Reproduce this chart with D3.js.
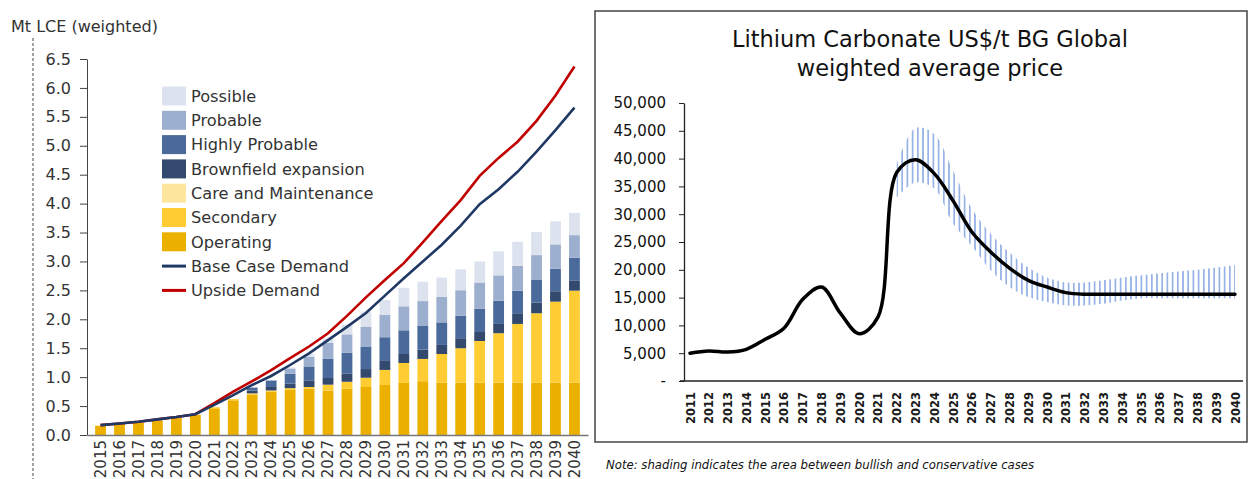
<!DOCTYPE html>
<html>
<head>
<meta charset="utf-8">
<script src="https://cdn.jsdelivr.net/npm/d3@7"></script>
<style>
  body { margin: 0; background: #fff; }
  text { font-family: "DejaVu Sans", sans-serif; }
</style>
</head>
<body>
<svg id="chart" width="1250" height="479"></svg>
<script>
// ---- left chart: supply vs demand (Mt LCE) ----
const supplyYears = ["2015","2016","2017","2018","2019","2020","2021","2022","2023","2024","2025","2026","2027",
                     "2028","2029","2030","2031","2032","2033","2034","2035","2036","2037","2038","2039","2040"];
const operating      = [0.16,0.19,0.21,0.25,0.30,0.35,0.45,0.60,0.70,0.75,0.78,0.80,0.77,0.80,0.83,0.865,0.90,0.93,0.905,0.905,0.905,0.905,0.905,0.905,0.905,0.905];
const secondary      = [0,0,0,0,0,0,0.03,0.02,0.02,0.02,0.03,0.03,0.10,0.12,0.16,0.26,0.345,0.385,0.495,0.595,0.72,0.855,1.015,1.20,1.40,1.59];
const careMaint      = [0,0,0,0,0,0,0,0,0,0,0,0,0,0,0,0,0,0,0,0,0,0,0,0,0,0];
const brownfield     = [0,0,0,0,0,0,0,0,0.05,0.06,0.08,0.115,0.115,0.145,0.15,0.155,0.155,0.16,0.157,0.173,0.156,0.16,0.185,0.185,0.18,0.17];
const highlyProbable = [0,0,0,0,0,0,0,0,0.05,0.11,0.17,0.24,0.33,0.355,0.39,0.41,0.41,0.41,0.39,0.39,0.40,0.40,0.39,0.39,0.39,0.40];
const probable       = [0,0,0,0,0,0,0,0,0,0.01,0.09,0.17,0.28,0.32,0.345,0.385,0.415,0.43,0.44,0.44,0.455,0.44,0.43,0.43,0.42,0.39];
const possible       = [0,0,0,0,0,0,0,0,0,0,0.02,0.04,0.07,0.17,0.26,0.26,0.32,0.335,0.335,0.36,0.363,0.415,0.415,0.40,0.40,0.385];
const baseDemand     = [0.17,0.20,0.23,0.27,0.31,0.36,0.52,0.69,0.865,1.02,1.21,1.41,1.64,1.87,2.11,2.41,2.71,3.00,3.29,3.62,3.99,4.25,4.55,4.90,5.27,5.66];
const upsideDemand   = [0.17,0.20,0.23,0.27,0.31,0.36,0.55,0.75,0.93,1.12,1.33,1.53,1.76,2.06,2.38,2.68,2.97,3.33,3.70,4.06,4.48,4.79,5.07,5.43,5.87,6.37];
const supplyTicks    = [0,0.5,1,1.5,2,2.5,3,3.5,4,4.5,5,5.5,6,6.5];

// ---- right chart: lithium carbonate price (US$/t) ----
const priceYears = ["2011","2012","2013","2014","2015","2016","2017","2018","2019","2020","2021","2022","2023","2024","2025",
                    "2026","2027","2028","2029","2030","2031","2032","2033","2034","2035","2036","2037","2038","2039","2040"];
const priceMid   = [5000,5400,5200,5700,7500,9500,14700,16900,12200,8500,11500,37500,39800,37300,32400,
                    26800,23200,20300,18100,16900,15900,15600,15600,15600,15600,15600,15600,15600,15600,15600];
const bandYears  = ["2022","2023","2024","2025","2026","2027","2028","2029","2030","2031","2032","2033","2034","2035","2036","2037","2038","2039","2040"];
const bandHigh   = [39000,45500,44400,37800,31000,26500,23100,20400,18600,17700,17700,18100,18600,19000,19400,19700,20000,20400,20800];
const bandLow    = [33000,35700,34600,28300,24300,19900,16900,15100,14200,13600,13600,13900,14500,14900,14900,14900,14900,14900,14900];
const priceTicks = [0,5000,10000,15000,20000,25000,30000,35000,40000,45000,50000];

const svg = d3.select("#chart");

// ================= left chart =================
const series = [
  {name: "Operating", values: operating, color: "#EBB000"},
  {name: "Secondary", values: secondary, color: "#FFCC33"},
  {name: "Care and Maintenance", values: careMaint, color: "#FFE69E"},
  {name: "Brownfield expansion", values: brownfield, color: "#334A6E"},
  {name: "Highly Probable", values: highlyProbable, color: "#4A6A9C"},
  {name: "Probable", values: probable, color: "#9DAFCE"},
  {name: "Possible", values: possible, color: "#DDE3EE"}
];

const rows = supplyYears.map((yr, i) => {
  const r = {year: yr};
  series.forEach(s => r[s.name] = s.values[i]);
  return r;
});
const stacked = d3.stack().keys(series.map(s => s.name))(rows);

const x = d3.scaleBand().domain(supplyYears).range([87, 588]).padding(0.43);
const y = d3.scaleLinear().domain([0, 6.5]).range([435, 59]);

// dashed guide and unit label
svg.append("line")
    .attr("x1", 33).attr("x2", 33).attr("y1", 38).attr("y2", 479)
    .attr("stroke", "#444").attr("stroke-dasharray", "3,2");
svg.append("text")
    .attr("x", 11).attr("y", 32)
    .attr("font-size", 16).attr("fill", "#333")
    .text("Mt LCE (weighted)");

const left = svg.append("g");

left.selectAll("g.layer")
  .data(stacked)
  .enter().append("g")
    .attr("class", "layer")
    .attr("fill", (d, i) => series[i].color)
  .selectAll("rect")
  .data(d => d)
  .enter().append("rect")
    .attr("x", d => x(d.data.year))
    .attr("width", x.bandwidth())
    .attr("y", d => y(d[1]))
    .attr("height", d => Math.max(0, y(d[0]) - y(d[1])));

const yAxisL = left.append("g")
    .attr("transform", "translate(87,0)")
    .call(d3.axisLeft(y).tickValues(supplyTicks).tickFormat(d3.format(".1f")).tickSize(7).tickPadding(9).tickSizeOuter(0));
yAxisL.selectAll("text").attr("font-size", 16).attr("fill", "#333").attr("font-family", "DejaVu Sans");
yAxisL.selectAll("line, path").attr("stroke", "#444");

const xAxisL = left.append("g")
    .attr("transform", "translate(0,435)")
    .call(d3.axisBottom(x).tickSize(0).tickSizeOuter(0));
xAxisL.select("path").attr("stroke", "#777").attr("stroke-width", 1.5);
xAxisL.selectAll("text")
    .attr("font-size", 15).attr("fill", "#333").attr("font-family", "DejaVu Sans")
    .attr("transform", "rotate(-90)")
    .attr("text-anchor", "end")
    .attr("x", -5).attr("y", 0).attr("dy", "0.35em");

const demandLine = d3.line()
    .x((d, i) => x(supplyYears[i]) + x.bandwidth() / 2)
    .y(d => y(d));

left.append("path").datum(upsideDemand)
    .attr("d", demandLine).attr("fill", "none")
    .attr("stroke", "#C00000").attr("stroke-width", 2.6);
left.append("path").datum(baseDemand)
    .attr("d", demandLine).attr("fill", "none")
    .attr("stroke", "#1F3864").attr("stroke-width", 2.6);

// legend
const legendItems = [
  {name: "Possible", color: "#DDE3EE", type: "box"},
  {name: "Probable", color: "#9DAFCE", type: "box"},
  {name: "Highly Probable", color: "#4A6A9C", type: "box"},
  {name: "Brownfield expansion", color: "#334A6E", type: "box"},
  {name: "Care and Maintenance", color: "#FFE69E", type: "box"},
  {name: "Secondary", color: "#FFCC33", type: "box"},
  {name: "Operating", color: "#EBB000", type: "box"},
  {name: "Base Case Demand", color: "#1F3864", type: "line"},
  {name: "Upside Demand", color: "#C00000", type: "line"}
];
const legend = svg.append("g").attr("transform", "translate(162,96)");
const li = legend.selectAll("g")
  .data(legendItems)
  .enter().append("g")
    .attr("transform", (d, i) => `translate(0,${i * 24.3})`);
li.filter(d => d.type === "box").append("rect")
    .attr("x", 0).attr("y", -9.5).attr("width", 24).attr("height", 19)
    .attr("fill", d => d.color);
li.filter(d => d.type === "line").append("line")
    .attr("x1", 0).attr("x2", 24).attr("y1", 0).attr("y2", 0)
    .attr("stroke", d => d.color).attr("stroke-width", 3);
li.append("text")
    .attr("x", 29).attr("y", 0).attr("dy", "0.36em")
    .attr("font-size", 16.2).attr("fill", "#333")
    .text(d => d.name);

// ================= right chart =================
svg.append("rect")
    .attr("x", 595).attr("y", 11).attr("width", 652).attr("height", 431)
    .attr("fill", "none").attr("stroke", "#444").attr("stroke-width", 1.5);

const title = svg.append("text")
    .attr("x", 930).attr("text-anchor", "middle")
    .attr("font-size", 22.5).attr("fill", "#111");
title.append("tspan").attr("x", 930).attr("y", 47).text("Lithium Carbonate US$/t BG Global");
title.append("tspan").attr("x", 930).attr("y", 76).text("weighted average price");

const px = d3.scalePoint().domain(priceYears).range([690, 1235]);
const py = d3.scaleLinear().domain([0, 50000]).range([381, 103]);

const defs = svg.append("defs");
const pat = defs.append("pattern")
    .attr("id", "hatch")
    .attr("patternUnits", "userSpaceOnUse")
    .attr("width", 5.2).attr("height", 10);
pat.append("line")
    .attr("x1", 2.6).attr("x2", 2.6).attr("y1", 0).attr("y2", 10)
    .attr("stroke", "#5D88D8").attr("stroke-width", 1.4).attr("stroke-opacity", 0.8);

const right = svg.append("g");

const band = d3.area()
    .x((d, i) => px(bandYears[i]))
    .y0((d, i) => py(bandLow[i]))
    .y1(d => py(d))
    .curve(d3.curveCatmullRom);
right.append("path").datum(bandHigh)
    .attr("d", band).attr("fill", "url(#hatch)");

const yAxisR = right.append("g")
    .attr("transform", "translate(684,0)")
    .call(d3.axisLeft(py).tickValues(priceTicks)
      .tickFormat(d => d === 0 ? "-" : d3.format(",")(d))
      .tickSize(5).tickPadding(13).tickSizeOuter(0));
yAxisR.selectAll("text").attr("font-size", 15).attr("fill", "#111").attr("font-family", "DejaVu Sans");
yAxisR.selectAll("line, path").attr("stroke", "#222");
yAxisR.select("path").attr("stroke-width", 1.3);

const xAxisR = right.append("g")
    .attr("transform", "translate(0,381)")
    .call(d3.axisBottom(px).tickSize(0).tickSizeOuter(0));
xAxisR.select("path").attr("d", "M680,0H1243").attr("stroke", "#222").attr("stroke-width", 1.5);
xAxisR.selectAll("text")
    .attr("font-size", 11.5).attr("font-weight", "bold").attr("fill", "#1a1a1a").attr("font-family", "DejaVu Sans")
    .attr("transform", "rotate(-90)")
    .attr("text-anchor", "end")
    .attr("x", -11).attr("y", 0).attr("dy", "0.35em");

right.append("path").datum(priceMid)
    .attr("d", d3.line()
      .x((d, i) => px(priceYears[i]))
      .y(d => py(d))
      .curve(d3.curveCatmullRom))
    .attr("fill", "none").attr("stroke", "#000").attr("stroke-width", 3.5)
    .attr("stroke-linejoin", "round").attr("stroke-linecap", "round");

svg.append("text")
    .attr("x", 606).attr("y", 469)
    .attr("font-size", 11.7).attr("font-style", "italic").attr("fill", "#111")
    .text("Note: shading indicates the area between bullish and conservative cases");
</script>
</body>
</html>
